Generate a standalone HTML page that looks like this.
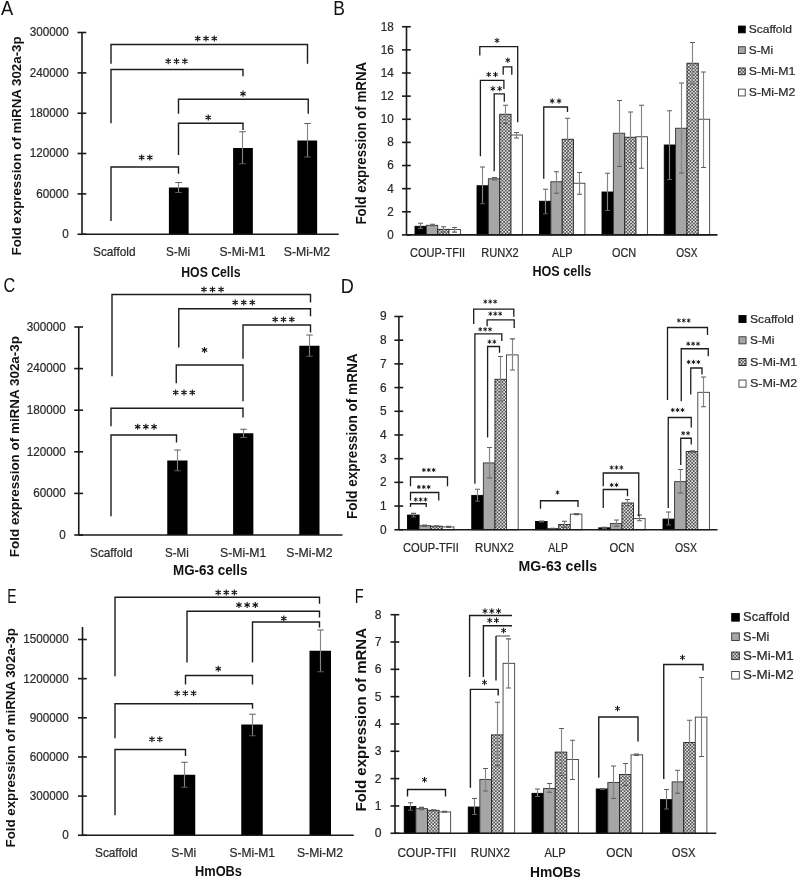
<!DOCTYPE html>
<html><head><meta charset="utf-8"><title>Figure</title>
<style>
html,body{margin:0;padding:0;background:#fff;}
body{width:800px;height:884px;overflow:hidden;}
svg{display:block;font-family:"Liberation Sans", sans-serif;will-change:transform;}
</style></head><body>
<svg width="800" height="884" viewBox="0 0 800 884">
<defs>
<pattern id="hatch" patternUnits="userSpaceOnUse" width="3.3" height="3.3">
<rect width="3.3" height="3.3" fill="#505050"/>
<circle cx="0.825" cy="0.825" r="0.9" fill="#f6f6f6"/>
<circle cx="2.475" cy="2.475" r="0.9" fill="#f6f6f6"/>
</pattern>
</defs>
<rect width="800" height="884" fill="#fff"/>
<text transform="translate(0.96,14.9) scale(0.92,1)" font-size="19.9" fill="#111">A</text>
<text transform="translate(333.32,14.75) scale(0.88,1)" font-size="19.9" fill="#111">B</text>
<text transform="translate(3.42,291.6) scale(0.8,1)" font-size="20.3" fill="#111">C</text>
<text transform="translate(340.76,292.75) scale(0.91,1)" font-size="19.9" fill="#111">D</text>
<text transform="translate(7.36,602.75) scale(0.7,1)" font-size="19.9" fill="#111">E</text>
<text transform="translate(354.71,603) scale(0.73,1)" font-size="19.9" fill="#111">F</text>
<rect x="168.9" y="187.5" width="19.75" height="46.75" fill="#000"/>
<path d="M178.5 182.5V192.5" stroke="#858585" stroke-width="1.15" fill="none"/>
<path d="M175.25 182.5H181.75M175.25 192.5H181.75" stroke="#5e5e5e" stroke-width="1.15" fill="none"/>
<rect x="233.1" y="148" width="19.75" height="86.25" fill="#000"/>
<path d="M242.5 131.75V163.75" stroke="#858585" stroke-width="1.15" fill="none"/>
<path d="M239.25 131.75H245.75M239.25 163.75H245.75" stroke="#5e5e5e" stroke-width="1.15" fill="none"/>
<rect x="297.4" y="140.5" width="19.75" height="93.75" fill="#000"/>
<path d="M307.5 123.5V157" stroke="#858585" stroke-width="1.15" fill="none"/>
<path d="M304.25 123.5H310.75M304.25 157H310.75" stroke="#5e5e5e" stroke-width="1.15" fill="none"/>
<line x1="82" y1="32.5" x2="82" y2="234.25" stroke="#1a1a1a" stroke-width="1.6"/>
<line x1="77.5" y1="32.5" x2="86.3" y2="32.5" stroke="#1a1a1a" stroke-width="1.6"/>
<text x="68.75" y="36.36" font-size="12.17" stroke="#2a2a2a" stroke-width="0.22" text-anchor="end" textLength="39.04" lengthAdjust="spacingAndGlyphs" fill="#2a2a2a">300000</text>
<line x1="77.5" y1="72.9" x2="86.3" y2="72.9" stroke="#1a1a1a" stroke-width="1.6"/>
<text x="68.75" y="76.76" font-size="12.17" stroke="#2a2a2a" stroke-width="0.22" text-anchor="end" textLength="39.04" lengthAdjust="spacingAndGlyphs" fill="#2a2a2a">240000</text>
<line x1="77.5" y1="113.25" x2="86.3" y2="113.25" stroke="#1a1a1a" stroke-width="1.6"/>
<text x="68.75" y="117.11" font-size="12.17" stroke="#2a2a2a" stroke-width="0.22" text-anchor="end" textLength="39.04" lengthAdjust="spacingAndGlyphs" fill="#2a2a2a">180000</text>
<line x1="77.5" y1="153.5" x2="86.3" y2="153.5" stroke="#1a1a1a" stroke-width="1.6"/>
<text x="68.75" y="157.36" font-size="12.17" stroke="#2a2a2a" stroke-width="0.22" text-anchor="end" textLength="39.04" lengthAdjust="spacingAndGlyphs" fill="#2a2a2a">120000</text>
<line x1="77.5" y1="193.9" x2="86.3" y2="193.9" stroke="#1a1a1a" stroke-width="1.6"/>
<text x="68.75" y="197.76" font-size="12.17" stroke="#2a2a2a" stroke-width="0.22" text-anchor="end" textLength="32.53" lengthAdjust="spacingAndGlyphs" fill="#2a2a2a">60000</text>
<line x1="77.5" y1="234.25" x2="86.3" y2="234.25" stroke="#1a1a1a" stroke-width="1.6"/>
<text x="68.75" y="238.11" font-size="12.17" stroke="#2a2a2a" stroke-width="0.22" text-anchor="end" textLength="6.51" lengthAdjust="spacingAndGlyphs" fill="#2a2a2a">0</text>
<line x1="82" y1="234.25" x2="338.75" y2="234.25" stroke="#1a1a1a" stroke-width="1.6"/>
<text x="114.25" y="255.5" font-size="11.9" stroke="#2a2a2a" stroke-width="0.22" text-anchor="middle" textLength="42.5" lengthAdjust="spacingAndGlyphs" fill="#2a2a2a">Scaffold</text>
<text x="178" y="255.5" font-size="11.9" stroke="#2a2a2a" stroke-width="0.22" text-anchor="middle" textLength="24" lengthAdjust="spacingAndGlyphs" fill="#2a2a2a">S-Mi</text>
<text x="242.5" y="255.5" font-size="11.9" stroke="#2a2a2a" stroke-width="0.22" text-anchor="middle" textLength="46" lengthAdjust="spacingAndGlyphs" fill="#2a2a2a">S-Mi-M1</text>
<text x="306.9" y="255.5" font-size="11.9" stroke="#2a2a2a" stroke-width="0.22" text-anchor="middle" textLength="46.25" lengthAdjust="spacingAndGlyphs" fill="#2a2a2a">S-Mi-M2</text>
<text x="181.25" y="277" font-size="13.8" font-weight="bold" textLength="59.25" lengthAdjust="spacingAndGlyphs" fill="#111">HOS Cells</text>
<text transform="translate(21.2,255.4) rotate(-90)" font-size="13.3" font-weight="bold" textLength="219" lengthAdjust="spacingAndGlyphs" fill="#111">Fold expression of miRNA 302a-3p</text>
<path d="M111 63.75V44.5H307.5V63.75" fill="none" stroke="#1c1c1c" stroke-width="1.4"/>
<path d="M197.68 35.4L197.68 41.6M195 36.95L200.37 40.05M195 40.05L200.37 36.95" stroke="#111" stroke-width="1.1" fill="none"/>
<path d="M206 35.4L206 41.6M203.32 36.95L208.68 40.05M203.32 40.05L208.68 36.95" stroke="#111" stroke-width="1.1" fill="none"/>
<path d="M214.32 35.4L214.32 41.6M211.63 36.95L217 40.05M211.63 40.05L217 36.95" stroke="#111" stroke-width="1.1" fill="none"/>
<path d="M111 123.25V69.5H243V76.25" fill="none" stroke="#1c1c1c" stroke-width="1.4"/>
<path d="M168.18 58.1L168.18 64.3M165.5 59.65L170.87 62.75M165.5 62.75L170.87 59.65" stroke="#111" stroke-width="1.1" fill="none"/>
<path d="M176.5 58.1L176.5 64.3M173.82 59.65L179.18 62.75M173.82 62.75L179.18 59.65" stroke="#111" stroke-width="1.1" fill="none"/>
<path d="M184.82 58.1L184.82 64.3M182.13 59.65L187.5 62.75M182.13 62.75L187.5 59.65" stroke="#111" stroke-width="1.1" fill="none"/>
<path d="M178.5 113.75V99.25H308.25V113.75" fill="none" stroke="#1c1c1c" stroke-width="1.4"/>
<path d="M243 90.6L243 96.8M240.32 92.15L245.68 95.25M240.32 95.25L245.68 92.15" stroke="#111" stroke-width="1.1" fill="none"/>
<path d="M178.5 155V123.25H243V130" fill="none" stroke="#1c1c1c" stroke-width="1.4"/>
<path d="M208.25 114.4L208.25 120.6M205.57 115.95L210.93 119.05M205.57 119.05L210.93 115.95" stroke="#111" stroke-width="1.1" fill="none"/>
<path d="M111 221V167H178.5V173.75" fill="none" stroke="#1c1c1c" stroke-width="1.4"/>
<path d="M141.68 154.4L141.68 160.6M139 155.95L144.37 159.05M139 159.05L144.37 155.95" stroke="#111" stroke-width="1.1" fill="none"/>
<path d="M149.82 154.4L149.82 160.6M147.13 155.95L152.5 159.05M147.13 159.05L152.5 155.95" stroke="#111" stroke-width="1.1" fill="none"/>
<rect x="167.25" y="460.5" width="20.25" height="74.5" fill="#000"/>
<path d="M177.5 450V470.75" stroke="#858585" stroke-width="1.15" fill="none"/>
<path d="M174.25 450H180.75M174.25 470.75H180.75" stroke="#5e5e5e" stroke-width="1.15" fill="none"/>
<rect x="233.1" y="433.25" width="20.25" height="101.75" fill="#000"/>
<path d="M243.5 429.25V437.5" stroke="#858585" stroke-width="1.15" fill="none"/>
<path d="M240.25 429.25H246.75M240.25 437.5H246.75" stroke="#5e5e5e" stroke-width="1.15" fill="none"/>
<rect x="299.25" y="345.75" width="20.25" height="189.25" fill="#000"/>
<path d="M309.5 335V356.25" stroke="#858585" stroke-width="1.15" fill="none"/>
<path d="M306.25 335H312.75M306.25 356.25H312.75" stroke="#5e5e5e" stroke-width="1.15" fill="none"/>
<line x1="78.75" y1="327" x2="78.75" y2="535" stroke="#1a1a1a" stroke-width="1.6"/>
<line x1="74.25" y1="327" x2="83.05" y2="327" stroke="#1a1a1a" stroke-width="1.6"/>
<text x="65.75" y="330.86" font-size="12.17" stroke="#2a2a2a" stroke-width="0.22" text-anchor="end" textLength="39.04" lengthAdjust="spacingAndGlyphs" fill="#2a2a2a">300000</text>
<line x1="74.25" y1="368.6" x2="83.05" y2="368.6" stroke="#1a1a1a" stroke-width="1.6"/>
<text x="65.75" y="372.46" font-size="12.17" stroke="#2a2a2a" stroke-width="0.22" text-anchor="end" textLength="39.04" lengthAdjust="spacingAndGlyphs" fill="#2a2a2a">240000</text>
<line x1="74.25" y1="410.2" x2="83.05" y2="410.2" stroke="#1a1a1a" stroke-width="1.6"/>
<text x="65.75" y="414.06" font-size="12.17" stroke="#2a2a2a" stroke-width="0.22" text-anchor="end" textLength="39.04" lengthAdjust="spacingAndGlyphs" fill="#2a2a2a">180000</text>
<line x1="74.25" y1="451.8" x2="83.05" y2="451.8" stroke="#1a1a1a" stroke-width="1.6"/>
<text x="65.75" y="455.66" font-size="12.17" stroke="#2a2a2a" stroke-width="0.22" text-anchor="end" textLength="39.04" lengthAdjust="spacingAndGlyphs" fill="#2a2a2a">120000</text>
<line x1="74.25" y1="493.4" x2="83.05" y2="493.4" stroke="#1a1a1a" stroke-width="1.6"/>
<text x="65.75" y="497.26" font-size="12.17" stroke="#2a2a2a" stroke-width="0.22" text-anchor="end" textLength="32.53" lengthAdjust="spacingAndGlyphs" fill="#2a2a2a">60000</text>
<line x1="74.25" y1="535" x2="83.05" y2="535" stroke="#1a1a1a" stroke-width="1.6"/>
<text x="65.75" y="538.86" font-size="12.17" stroke="#2a2a2a" stroke-width="0.22" text-anchor="end" textLength="6.51" lengthAdjust="spacingAndGlyphs" fill="#2a2a2a">0</text>
<line x1="78.75" y1="535" x2="342.5" y2="535" stroke="#1a1a1a" stroke-width="1.6"/>
<text x="111.25" y="556.5" font-size="11.9" stroke="#2a2a2a" stroke-width="0.22" text-anchor="middle" textLength="42.5" lengthAdjust="spacingAndGlyphs" fill="#2a2a2a">Scaffold</text>
<text x="176.9" y="556.5" font-size="11.9" stroke="#2a2a2a" stroke-width="0.22" text-anchor="middle" textLength="23.75" lengthAdjust="spacingAndGlyphs" fill="#2a2a2a">S-Mi</text>
<text x="243.1" y="556.5" font-size="11.9" stroke="#2a2a2a" stroke-width="0.22" text-anchor="middle" textLength="46.25" lengthAdjust="spacingAndGlyphs" fill="#2a2a2a">S-Mi-M1</text>
<text x="309.4" y="556.5" font-size="11.9" stroke="#2a2a2a" stroke-width="0.22" text-anchor="middle" textLength="46.25" lengthAdjust="spacingAndGlyphs" fill="#2a2a2a">S-Mi-M2</text>
<text x="173" y="575" font-size="13.8" font-weight="bold" textLength="74.5" lengthAdjust="spacingAndGlyphs" fill="#111">MG-63 cells</text>
<text transform="translate(18.9,557.2) rotate(-90)" font-size="13.3" font-weight="bold" textLength="221.2" lengthAdjust="spacingAndGlyphs" fill="#111">Fold expression of miRNA 302a-3p</text>
<path d="M112 376.25V294.5H310.5V302.5" fill="none" stroke="#1c1c1c" stroke-width="1.4"/>
<path d="M203.93 286.4L203.93 292.6M201.25 287.95L206.62 291.05M201.25 291.05L206.62 287.95" stroke="#111" stroke-width="1.1" fill="none"/>
<path d="M212.5 286.4L212.5 292.6M209.82 287.95L215.18 291.05M209.82 291.05L215.18 287.95" stroke="#111" stroke-width="1.1" fill="none"/>
<path d="M221.07 286.4L221.07 292.6M218.38 287.95L223.75 291.05M218.38 291.05L223.75 287.95" stroke="#111" stroke-width="1.1" fill="none"/>
<path d="M178.75 347.5V308.75H310.5V316.25" fill="none" stroke="#1c1c1c" stroke-width="1.4"/>
<path d="M235.18 299.4L235.18 305.6M232.5 300.95L237.87 304.05M232.5 304.05L237.87 300.95" stroke="#111" stroke-width="1.1" fill="none"/>
<path d="M243.75 299.4L243.75 305.6M241.07 300.95L246.43 304.05M241.07 304.05L246.43 300.95" stroke="#111" stroke-width="1.1" fill="none"/>
<path d="M252.32 299.4L252.32 305.6M249.63 300.95L255 304.05M249.63 304.05L255 300.95" stroke="#111" stroke-width="1.1" fill="none"/>
<path d="M243 358.75V325H310.5V332.5" fill="none" stroke="#1c1c1c" stroke-width="1.4"/>
<path d="M275.18 316.4L275.18 322.6M272.5 317.95L277.87 321.05M272.5 321.05L277.87 317.95" stroke="#111" stroke-width="1.1" fill="none"/>
<path d="M283.5 316.4L283.5 322.6M280.82 317.95L286.18 321.05M280.82 321.05L286.18 317.95" stroke="#111" stroke-width="1.1" fill="none"/>
<path d="M291.82 316.4L291.82 322.6M289.13 317.95L294.5 321.05M289.13 321.05L294.5 317.95" stroke="#111" stroke-width="1.1" fill="none"/>
<path d="M176.25 383.25V365H243V401.25" fill="none" stroke="#1c1c1c" stroke-width="1.4"/>
<path d="M204.5 346.9L204.5 353.1M201.82 348.45L207.18 351.55M201.82 351.55L207.18 348.45" stroke="#111" stroke-width="1.1" fill="none"/>
<path d="M111 426.25V408.25H243V417.5" fill="none" stroke="#1c1c1c" stroke-width="1.4"/>
<path d="M175.68 389.4L175.68 395.6M173 390.95L178.37 394.05M173 394.05L178.37 390.95" stroke="#111" stroke-width="1.1" fill="none"/>
<path d="M184 389.4L184 395.6M181.32 390.95L186.68 394.05M181.32 394.05L186.68 390.95" stroke="#111" stroke-width="1.1" fill="none"/>
<path d="M192.32 389.4L192.32 395.6M189.63 390.95L195 394.05M189.63 394.05L195 390.95" stroke="#111" stroke-width="1.1" fill="none"/>
<path d="M111 516.25V435H176.5V442.5" fill="none" stroke="#1c1c1c" stroke-width="1.4"/>
<path d="M137.68 423.65L137.68 429.85M135 425.2L140.37 428.3M135 428.3L140.37 425.2" stroke="#111" stroke-width="1.1" fill="none"/>
<path d="M145.88 423.65L145.88 429.85M143.19 425.2L148.56 428.3M143.19 428.3L148.56 425.2" stroke="#111" stroke-width="1.1" fill="none"/>
<path d="M154.07 423.65L154.07 429.85M151.38 425.2L156.75 428.3M151.38 428.3L156.75 425.2" stroke="#111" stroke-width="1.1" fill="none"/>
<rect x="173.75" y="774.75" width="21.5" height="60.5" fill="#000"/>
<path d="M184.5 762.25V787.25" stroke="#858585" stroke-width="1.15" fill="none"/>
<path d="M181.25 762.25H187.75M181.25 787.25H187.75" stroke="#5e5e5e" stroke-width="1.15" fill="none"/>
<rect x="241.25" y="724.5" width="21.5" height="110.75" fill="#000"/>
<path d="M252.5 714.25V735.75" stroke="#858585" stroke-width="1.15" fill="none"/>
<path d="M249.25 714.25H255.75M249.25 735.75H255.75" stroke="#5e5e5e" stroke-width="1.15" fill="none"/>
<rect x="309.5" y="650.75" width="21.5" height="184.5" fill="#000"/>
<path d="M320.5 630V671.75" stroke="#858585" stroke-width="1.15" fill="none"/>
<path d="M317.25 630H323.75M317.25 671.75H323.75" stroke="#5e5e5e" stroke-width="1.15" fill="none"/>
<line x1="82.5" y1="639.5" x2="82.5" y2="835.25" stroke="#1a1a1a" stroke-width="1.6"/>
<line x1="78" y1="639.5" x2="86.8" y2="639.5" stroke="#1a1a1a" stroke-width="1.6"/>
<text x="68.75" y="643.36" font-size="12.17" stroke="#2a2a2a" stroke-width="0.22" text-anchor="end" textLength="45.54" lengthAdjust="spacingAndGlyphs" fill="#2a2a2a">1500000</text>
<line x1="78" y1="678.65" x2="86.8" y2="678.65" stroke="#1a1a1a" stroke-width="1.6"/>
<text x="68.75" y="682.51" font-size="12.17" stroke="#2a2a2a" stroke-width="0.22" text-anchor="end" textLength="45.54" lengthAdjust="spacingAndGlyphs" fill="#2a2a2a">1200000</text>
<line x1="78" y1="717.8" x2="86.8" y2="717.8" stroke="#1a1a1a" stroke-width="1.6"/>
<text x="68.75" y="721.66" font-size="12.17" stroke="#2a2a2a" stroke-width="0.22" text-anchor="end" textLength="39.04" lengthAdjust="spacingAndGlyphs" fill="#2a2a2a">900000</text>
<line x1="78" y1="756.95" x2="86.8" y2="756.95" stroke="#1a1a1a" stroke-width="1.6"/>
<text x="68.75" y="760.81" font-size="12.17" stroke="#2a2a2a" stroke-width="0.22" text-anchor="end" textLength="39.04" lengthAdjust="spacingAndGlyphs" fill="#2a2a2a">600000</text>
<line x1="78" y1="796.1" x2="86.8" y2="796.1" stroke="#1a1a1a" stroke-width="1.6"/>
<text x="68.75" y="799.96" font-size="12.17" stroke="#2a2a2a" stroke-width="0.22" text-anchor="end" textLength="39.04" lengthAdjust="spacingAndGlyphs" fill="#2a2a2a">300000</text>
<line x1="78" y1="835.25" x2="86.8" y2="835.25" stroke="#1a1a1a" stroke-width="1.6"/>
<text x="68.75" y="839.11" font-size="12.17" stroke="#2a2a2a" stroke-width="0.22" text-anchor="end" textLength="6.51" lengthAdjust="spacingAndGlyphs" fill="#2a2a2a">0</text>
<line x1="82.5" y1="835.25" x2="353.75" y2="835.25" stroke="#1a1a1a" stroke-width="1.6"/>
<text x="116.25" y="856.75" font-size="11.9" stroke="#2a2a2a" stroke-width="0.22" text-anchor="middle" textLength="42.5" lengthAdjust="spacingAndGlyphs" fill="#2a2a2a">Scaffold</text>
<text x="183.75" y="856.75" font-size="11.9" stroke="#2a2a2a" stroke-width="0.22" text-anchor="middle" textLength="25" lengthAdjust="spacingAndGlyphs" fill="#2a2a2a">S-Mi</text>
<text x="252.25" y="856.75" font-size="11.9" stroke="#2a2a2a" stroke-width="0.22" text-anchor="middle" textLength="45.5" lengthAdjust="spacingAndGlyphs" fill="#2a2a2a">S-Mi-M1</text>
<text x="320" y="856.75" font-size="11.9" stroke="#2a2a2a" stroke-width="0.22" text-anchor="middle" textLength="46" lengthAdjust="spacingAndGlyphs" fill="#2a2a2a">S-Mi-M2</text>
<text x="195" y="876" font-size="13.8" font-weight="bold" textLength="47" lengthAdjust="spacingAndGlyphs" fill="#111">HmOBs</text>
<text transform="translate(14.9,847.5) rotate(-90)" font-size="13.3" font-weight="bold" textLength="219.3" lengthAdjust="spacingAndGlyphs" fill="#111">Fold expression of miRNA 302a-3p</text>
<line x1="82.5" y1="627" x2="82.5" y2="639.5" stroke="#1a1a1a" stroke-width="1.6"/>
<path d="M115 676.25V597.25H319.5V603.75" fill="none" stroke="#1c1c1c" stroke-width="1.4"/>
<path d="M218.18 589.4L218.18 595.6M215.5 590.95L220.87 594.05M215.5 594.05L220.87 590.95" stroke="#111" stroke-width="1.1" fill="none"/>
<path d="M226.25 589.4L226.25 595.6M223.57 590.95L228.93 594.05M223.57 594.05L228.93 590.95" stroke="#111" stroke-width="1.1" fill="none"/>
<path d="M234.32 589.4L234.32 595.6M231.63 590.95L237 594.05M231.63 594.05L237 590.95" stroke="#111" stroke-width="1.1" fill="none"/>
<path d="M187 662.5V611.25H319.5V617.5" fill="none" stroke="#1c1c1c" stroke-width="1.4"/>
<path d="M238.93 601.9L238.93 608.1M236.25 603.45L241.62 606.55M236.25 606.55L241.62 603.45" stroke="#111" stroke-width="1.1" fill="none"/>
<path d="M247.12 601.9L247.12 608.1M244.44 603.45L249.81 606.55M244.44 606.55L249.81 603.45" stroke="#111" stroke-width="1.1" fill="none"/>
<path d="M255.32 601.9L255.32 608.1M252.63 603.45L258 606.55M252.63 606.55L258 603.45" stroke="#111" stroke-width="1.1" fill="none"/>
<path d="M252.5 662.5V622H319.5V627.5" fill="none" stroke="#1c1c1c" stroke-width="1.4"/>
<path d="M283.75 615.4L283.75 621.6M281.07 616.95L286.43 620.05M281.07 620.05L286.43 616.95" stroke="#111" stroke-width="1.1" fill="none"/>
<path d="M185.5 684.5V675.5H252.5V684.5" fill="none" stroke="#1c1c1c" stroke-width="1.4"/>
<path d="M218.25 665.65L218.25 671.85M215.57 667.2L220.93 670.3M215.57 670.3L220.93 667.2" stroke="#111" stroke-width="1.1" fill="none"/>
<path d="M115 738.25V703.75H252.5V708.75" fill="none" stroke="#1c1c1c" stroke-width="1.4"/>
<path d="M177.18 690.15L177.18 696.35M174.5 691.7L179.87 694.8M174.5 694.8L179.87 691.7" stroke="#111" stroke-width="1.1" fill="none"/>
<path d="M185.38 690.15L185.38 696.35M182.69 691.7L188.06 694.8M182.69 694.8L188.06 691.7" stroke="#111" stroke-width="1.1" fill="none"/>
<path d="M193.57 690.15L193.57 696.35M190.88 691.7L196.25 694.8M190.88 694.8L196.25 691.7" stroke="#111" stroke-width="1.1" fill="none"/>
<path d="M115 815.25V749.5H185.5V756" fill="none" stroke="#1c1c1c" stroke-width="1.4"/>
<path d="M151.93 736.15L151.93 742.35M149.25 737.7L154.62 740.8M149.25 740.8L154.62 737.7" stroke="#111" stroke-width="1.1" fill="none"/>
<path d="M159.82 736.15L159.82 742.35M157.13 737.7L162.5 740.8M157.13 740.8L162.5 737.7" stroke="#111" stroke-width="1.1" fill="none"/>
<rect x="415" y="226.3" width="11.35" height="8.6" fill="#000" stroke="#000" stroke-width="0.9"/>
<rect x="426.35" y="225.3" width="11.35" height="9.6" fill="#a6a6a6" stroke="#333" stroke-width="0.9"/>
<rect x="437.7" y="229.35" width="11.35" height="5.55" fill="url(#hatch)" stroke="#222" stroke-width="0.9"/>
<rect x="449.05" y="229.5" width="11.35" height="5.4" fill="#fff" stroke="#3c3c3c" stroke-width="0.9"/>
<rect x="477" y="185.75" width="11.35" height="49.15" fill="#000" stroke="#000" stroke-width="0.9"/>
<rect x="488.35" y="178.75" width="11.35" height="56.15" fill="#a6a6a6" stroke="#333" stroke-width="0.9"/>
<rect x="499.7" y="114.25" width="11.35" height="120.65" fill="url(#hatch)" stroke="#222" stroke-width="0.9"/>
<rect x="511.05" y="135" width="11.35" height="99.9" fill="#fff" stroke="#3c3c3c" stroke-width="0.9"/>
<rect x="539.5" y="201.25" width="11.35" height="33.65" fill="#000" stroke="#000" stroke-width="0.9"/>
<rect x="550.85" y="181.75" width="11.35" height="53.15" fill="#a6a6a6" stroke="#333" stroke-width="0.9"/>
<rect x="562.2" y="139.25" width="11.35" height="95.65" fill="url(#hatch)" stroke="#222" stroke-width="0.9"/>
<rect x="573.55" y="183.25" width="11.35" height="51.65" fill="#fff" stroke="#3c3c3c" stroke-width="0.9"/>
<rect x="602" y="192" width="11.35" height="42.9" fill="#000" stroke="#000" stroke-width="0.9"/>
<rect x="613.35" y="133.25" width="11.35" height="101.65" fill="#a6a6a6" stroke="#333" stroke-width="0.9"/>
<rect x="624.7" y="137.25" width="11.35" height="97.65" fill="url(#hatch)" stroke="#222" stroke-width="0.9"/>
<rect x="636.05" y="136.75" width="11.35" height="98.15" fill="#fff" stroke="#3c3c3c" stroke-width="0.9"/>
<rect x="664.25" y="145" width="11.35" height="89.9" fill="#000" stroke="#000" stroke-width="0.9"/>
<rect x="675.6" y="128.25" width="11.35" height="106.65" fill="#a6a6a6" stroke="#333" stroke-width="0.9"/>
<rect x="686.95" y="63.25" width="11.35" height="171.65" fill="url(#hatch)" stroke="#222" stroke-width="0.9"/>
<rect x="698.3" y="119.25" width="11.35" height="115.65" fill="#fff" stroke="#3c3c3c" stroke-width="0.9"/>
<path d="M420.5 228.3V223.25" stroke="#858585" stroke-width="1.15" fill="none"/>
<path d="M418 228.3H423M418 223.25H423" stroke="#5e5e5e" stroke-width="1.15" fill="none"/>
<path d="M432.5 225.6V224.2" stroke="#858585" stroke-width="1.15" fill="none"/>
<path d="M430 225.6H435M430 224.2H435" stroke="#5e5e5e" stroke-width="1.15" fill="none"/>
<path d="M443.5 232V226.7" stroke="#858585" stroke-width="1.15" fill="none"/>
<path d="M441 232H446M441 226.7H446" stroke="#5e5e5e" stroke-width="1.15" fill="none"/>
<path d="M454.5 232.1V227.5" stroke="#858585" stroke-width="1.15" fill="none"/>
<path d="M452 232.1H457M452 227.5H457" stroke="#5e5e5e" stroke-width="1.15" fill="none"/>
<path d="M482.5 203.75V167" stroke="#858585" stroke-width="1.15" fill="none"/>
<path d="M480 203.75H485M480 167H485" stroke="#5e5e5e" stroke-width="1.15" fill="none"/>
<path d="M494.5 180V177.5" stroke="#858585" stroke-width="1.15" fill="none"/>
<path d="M492 180H497M492 177.5H497" stroke="#5e5e5e" stroke-width="1.15" fill="none"/>
<path d="M505.5 123.3V105.2" stroke="#858585" stroke-width="1.15" fill="none"/>
<path d="M503 123.3H508M503 105.2H508" stroke="#5e5e5e" stroke-width="1.15" fill="none"/>
<path d="M516.5 138V132.5" stroke="#858585" stroke-width="1.15" fill="none"/>
<path d="M514 138H519M514 132.5H519" stroke="#5e5e5e" stroke-width="1.15" fill="none"/>
<path d="M545.5 213.75V189.25" stroke="#858585" stroke-width="1.15" fill="none"/>
<path d="M543 213.75H548M543 189.25H548" stroke="#5e5e5e" stroke-width="1.15" fill="none"/>
<path d="M556.5 193.25V171.75" stroke="#858585" stroke-width="1.15" fill="none"/>
<path d="M554 193.25H559M554 171.75H559" stroke="#5e5e5e" stroke-width="1.15" fill="none"/>
<path d="M567.5 160.25V118.25" stroke="#858585" stroke-width="1.15" fill="none"/>
<path d="M565 160.25H570M565 118.25H570" stroke="#5e5e5e" stroke-width="1.15" fill="none"/>
<path d="M579.5 194.25V172.5" stroke="#858585" stroke-width="1.15" fill="none"/>
<path d="M577 194.25H582M577 172.5H582" stroke="#5e5e5e" stroke-width="1.15" fill="none"/>
<path d="M607.5 210.5V173.25" stroke="#858585" stroke-width="1.15" fill="none"/>
<path d="M605 210.5H610M605 173.25H610" stroke="#5e5e5e" stroke-width="1.15" fill="none"/>
<path d="M619.5 166.5V100.5" stroke="#858585" stroke-width="1.15" fill="none"/>
<path d="M617 166.5H622M617 100.5H622" stroke="#5e5e5e" stroke-width="1.15" fill="none"/>
<path d="M630.5 162.5V112" stroke="#858585" stroke-width="1.15" fill="none"/>
<path d="M628 162.5H633M628 112H633" stroke="#5e5e5e" stroke-width="1.15" fill="none"/>
<path d="M641.5 168.25V105.25" stroke="#858585" stroke-width="1.15" fill="none"/>
<path d="M639 168.25H644M639 105.25H644" stroke="#5e5e5e" stroke-width="1.15" fill="none"/>
<path d="M669.5 179.5V110.75" stroke="#858585" stroke-width="1.15" fill="none"/>
<path d="M667 179.5H672M667 110.75H672" stroke="#5e5e5e" stroke-width="1.15" fill="none"/>
<path d="M681.5 173V83" stroke="#858585" stroke-width="1.15" fill="none"/>
<path d="M679 173H684M679 83H684" stroke="#5e5e5e" stroke-width="1.15" fill="none"/>
<path d="M692.5 84V42.5" stroke="#858585" stroke-width="1.15" fill="none"/>
<path d="M690 84H695M690 42.5H695" stroke="#5e5e5e" stroke-width="1.15" fill="none"/>
<path d="M703.5 167.5V72" stroke="#858585" stroke-width="1.15" fill="none"/>
<path d="M701 167.5H706M701 72H706" stroke="#5e5e5e" stroke-width="1.15" fill="none"/>
<line x1="406.5" y1="26.75" x2="406.5" y2="234.9" stroke="#1a1a1a" stroke-width="1.6"/>
<line x1="402" y1="26.75" x2="410.8" y2="26.75" stroke="#1a1a1a" stroke-width="1.6"/>
<text x="393.8" y="30.61" font-size="12.17" stroke="#2a2a2a" stroke-width="0.22" text-anchor="end" textLength="13.01" lengthAdjust="spacingAndGlyphs" fill="#2a2a2a">18</text>
<line x1="402" y1="49.88" x2="410.8" y2="49.88" stroke="#1a1a1a" stroke-width="1.6"/>
<text x="393.8" y="53.73" font-size="12.17" stroke="#2a2a2a" stroke-width="0.22" text-anchor="end" textLength="13.01" lengthAdjust="spacingAndGlyphs" fill="#2a2a2a">16</text>
<line x1="402" y1="73.01" x2="410.8" y2="73.01" stroke="#1a1a1a" stroke-width="1.6"/>
<text x="393.8" y="76.86" font-size="12.17" stroke="#2a2a2a" stroke-width="0.22" text-anchor="end" textLength="13.01" lengthAdjust="spacingAndGlyphs" fill="#2a2a2a">14</text>
<line x1="402" y1="96.13" x2="410.8" y2="96.13" stroke="#1a1a1a" stroke-width="1.6"/>
<text x="393.8" y="99.99" font-size="12.17" stroke="#2a2a2a" stroke-width="0.22" text-anchor="end" textLength="13.01" lengthAdjust="spacingAndGlyphs" fill="#2a2a2a">12</text>
<line x1="402" y1="119.26" x2="410.8" y2="119.26" stroke="#1a1a1a" stroke-width="1.6"/>
<text x="393.8" y="123.12" font-size="12.17" stroke="#2a2a2a" stroke-width="0.22" text-anchor="end" textLength="13.01" lengthAdjust="spacingAndGlyphs" fill="#2a2a2a">10</text>
<line x1="402" y1="142.39" x2="410.8" y2="142.39" stroke="#1a1a1a" stroke-width="1.6"/>
<text x="393.8" y="146.25" font-size="12.17" stroke="#2a2a2a" stroke-width="0.22" text-anchor="end" textLength="6.51" lengthAdjust="spacingAndGlyphs" fill="#2a2a2a">8</text>
<line x1="402" y1="165.52" x2="410.8" y2="165.52" stroke="#1a1a1a" stroke-width="1.6"/>
<text x="393.8" y="169.37" font-size="12.17" stroke="#2a2a2a" stroke-width="0.22" text-anchor="end" textLength="6.51" lengthAdjust="spacingAndGlyphs" fill="#2a2a2a">6</text>
<line x1="402" y1="188.64" x2="410.8" y2="188.64" stroke="#1a1a1a" stroke-width="1.6"/>
<text x="393.8" y="192.5" font-size="12.17" stroke="#2a2a2a" stroke-width="0.22" text-anchor="end" textLength="6.51" lengthAdjust="spacingAndGlyphs" fill="#2a2a2a">4</text>
<line x1="402" y1="211.77" x2="410.8" y2="211.77" stroke="#1a1a1a" stroke-width="1.6"/>
<text x="393.8" y="215.63" font-size="12.17" stroke="#2a2a2a" stroke-width="0.22" text-anchor="end" textLength="6.51" lengthAdjust="spacingAndGlyphs" fill="#2a2a2a">2</text>
<line x1="402" y1="234.9" x2="410.8" y2="234.9" stroke="#1a1a1a" stroke-width="1.6"/>
<text x="393.8" y="238.76" font-size="12.17" stroke="#2a2a2a" stroke-width="0.22" text-anchor="end" textLength="6.51" lengthAdjust="spacingAndGlyphs" fill="#2a2a2a">0</text>
<line x1="406.5" y1="234.9" x2="717.5" y2="234.9" stroke="#1a1a1a" stroke-width="1.6"/>
<text x="437.5" y="256.5" font-size="11.9" stroke="#2a2a2a" stroke-width="0.22" text-anchor="middle" textLength="55" lengthAdjust="spacingAndGlyphs" fill="#2a2a2a">COUP-TFII</text>
<text x="500" y="256.5" font-size="11.9" stroke="#2a2a2a" stroke-width="0.22" text-anchor="middle" textLength="37.5" lengthAdjust="spacingAndGlyphs" fill="#2a2a2a">RUNX2</text>
<text x="562.25" y="256.5" font-size="11.9" stroke="#2a2a2a" stroke-width="0.22" text-anchor="middle" textLength="20.5" lengthAdjust="spacingAndGlyphs" fill="#2a2a2a">ALP</text>
<text x="624.1" y="256.5" font-size="11.9" stroke="#2a2a2a" stroke-width="0.22" text-anchor="middle" textLength="24.25" lengthAdjust="spacingAndGlyphs" fill="#2a2a2a">OCN</text>
<text x="686.9" y="256.5" font-size="11.9" stroke="#2a2a2a" stroke-width="0.22" text-anchor="middle" textLength="21.25" lengthAdjust="spacingAndGlyphs" fill="#2a2a2a">OSX</text>
<text x="532.5" y="276.25" font-size="13.8" font-weight="bold" textLength="58.75" lengthAdjust="spacingAndGlyphs" fill="#111">HOS cells</text>
<text transform="translate(365.8,224.5) rotate(-90)" font-size="14" font-weight="bold" textLength="162.6" lengthAdjust="spacingAndGlyphs" fill="#111">Fold expression of mRNA</text>
<rect x="738.45" y="26.05" width="6.8" height="6.8" fill="#000" stroke="#000" stroke-width="0.9"/>
<text x="748.75" y="32.75" font-size="11.7" stroke="#2a2a2a" stroke-width="0.22" textLength="43.1" lengthAdjust="spacingAndGlyphs" fill="#2a2a2a">Scaffold</text>
<rect x="738.45" y="46.75" width="6.8" height="6.8" fill="#a6a6a6" stroke="#333" stroke-width="0.9"/>
<text x="748.75" y="53.75" font-size="11.7" stroke="#2a2a2a" stroke-width="0.22" textLength="24.4" lengthAdjust="spacingAndGlyphs" fill="#2a2a2a">S-Mi</text>
<rect x="738.45" y="67.95" width="6.8" height="6.8" fill="url(#hatch)" stroke="#222" stroke-width="0.9"/>
<text x="748.75" y="75" font-size="11.7" stroke="#2a2a2a" stroke-width="0.22" textLength="46.5" lengthAdjust="spacingAndGlyphs" fill="#2a2a2a">S-Mi-M1</text>
<rect x="738.45" y="89.15" width="6.8" height="6.8" fill="#fff" stroke="#3c3c3c" stroke-width="0.9"/>
<text x="748.75" y="96" font-size="11.7" stroke="#2a2a2a" stroke-width="0.22" textLength="46.5" lengthAdjust="spacingAndGlyphs" fill="#2a2a2a">S-Mi-M2</text>
<path d="M479.8 55.5V46.6H517.7V122.2" fill="none" stroke="#1c1c1c" stroke-width="1.3"/>
<path d="M497 37.9L497 43.1M494.75 39.2L499.25 41.8M494.75 41.8L499.25 39.2" stroke="#111" stroke-width="1" fill="none"/>
<path d="M503.2 74.7V66.8H511.8V74.7" fill="none" stroke="#1c1c1c" stroke-width="1.3"/>
<path d="M507.8 57.6L507.8 62.8M505.55 58.9L510.05 61.5M505.55 61.5L510.05 58.9" stroke="#111" stroke-width="1" fill="none"/>
<path d="M480.4 156.25V80.4H503.9V88.9" fill="none" stroke="#1c1c1c" stroke-width="1.3"/>
<path d="M488.7 71.9L488.7 77.1M486.45 73.2L490.95 75.8M486.45 75.8L490.95 73.2" stroke="#111" stroke-width="1" fill="none"/>
<path d="M495.5 71.9L495.5 77.1M493.25 73.2L497.75 75.8M493.25 75.8L497.75 73.2" stroke="#111" stroke-width="1" fill="none"/>
<path d="M494.2 171.25V93.9H504.3V101.8" fill="none" stroke="#1c1c1c" stroke-width="1.3"/>
<path d="M492.9 86.1L492.9 91.3M490.65 87.4L495.15 90M490.65 90L495.15 87.4" stroke="#111" stroke-width="1" fill="none"/>
<path d="M499.7 86.1L499.7 91.3M497.45 87.4L501.95 90M497.45 90L501.95 87.4" stroke="#111" stroke-width="1" fill="none"/>
<path d="M543.75 178.75V107H567.5V112" fill="none" stroke="#1c1c1c" stroke-width="1.3"/>
<path d="M552.2 98.4L552.2 103.6M549.95 99.7L554.45 102.3M549.95 102.3L554.45 99.7" stroke="#111" stroke-width="1" fill="none"/>
<path d="M559 98.4L559 103.6M556.75 99.7L561.25 102.3M556.75 102.3L561.25 99.7" stroke="#111" stroke-width="1" fill="none"/>
<rect x="407.5" y="515.06" width="11.6" height="14.69" fill="#000" stroke="#000" stroke-width="0.9"/>
<rect x="419.1" y="525.72" width="11.6" height="4.03" fill="#a6a6a6" stroke="#333" stroke-width="0.9"/>
<rect x="430.7" y="526.2" width="11.6" height="3.55" fill="url(#hatch)" stroke="#222" stroke-width="0.9"/>
<rect x="442.3" y="526.91" width="11.6" height="2.84" fill="#fff" stroke="#3c3c3c" stroke-width="0.9"/>
<rect x="471.75" y="495.39" width="11.6" height="34.36" fill="#000" stroke="#000" stroke-width="0.9"/>
<rect x="483.35" y="462.93" width="11.6" height="66.82" fill="#a6a6a6" stroke="#333" stroke-width="0.9"/>
<rect x="494.95" y="379.29" width="11.6" height="150.46" fill="url(#hatch)" stroke="#222" stroke-width="0.9"/>
<rect x="506.55" y="354.88" width="11.6" height="174.87" fill="#fff" stroke="#3c3c3c" stroke-width="0.9"/>
<rect x="535.5" y="521.46" width="11.6" height="8.29" fill="#000" stroke="#000" stroke-width="0.9"/>
<rect x="547.1" y="528.57" width="11.6" height="1.18" fill="#a6a6a6" stroke="#333" stroke-width="0.9"/>
<rect x="558.7" y="524.54" width="11.6" height="5.21" fill="url(#hatch)" stroke="#222" stroke-width="0.9"/>
<rect x="570.3" y="514.11" width="11.6" height="15.64" fill="#fff" stroke="#3c3c3c" stroke-width="0.9"/>
<rect x="598.75" y="527.85" width="11.6" height="1.9" fill="#000" stroke="#000" stroke-width="0.9"/>
<rect x="610.35" y="523.59" width="11.6" height="6.16" fill="#a6a6a6" stroke="#333" stroke-width="0.9"/>
<rect x="621.95" y="502.98" width="11.6" height="26.77" fill="url(#hatch)" stroke="#222" stroke-width="0.9"/>
<rect x="633.55" y="518.61" width="11.6" height="11.14" fill="#fff" stroke="#3c3c3c" stroke-width="0.9"/>
<rect x="663" y="519.09" width="11.6" height="10.66" fill="#000" stroke="#000" stroke-width="0.9"/>
<rect x="674.6" y="481.65" width="11.6" height="48.1" fill="#a6a6a6" stroke="#333" stroke-width="0.9"/>
<rect x="686.2" y="451.56" width="11.6" height="78.19" fill="url(#hatch)" stroke="#222" stroke-width="0.9"/>
<rect x="697.8" y="392.32" width="11.6" height="137.43" fill="#fff" stroke="#3c3c3c" stroke-width="0.9"/>
<path d="M413.5 516.96V513.4" stroke="#858585" stroke-width="1.15" fill="none"/>
<path d="M411 516.96H416M411 513.4H416" stroke="#5e5e5e" stroke-width="1.15" fill="none"/>
<path d="M424.5 526.43V525.01" stroke="#858585" stroke-width="1.15" fill="none"/>
<path d="M422 526.43H427M422 525.01H427" stroke="#5e5e5e" stroke-width="1.15" fill="none"/>
<path d="M436.5 526.67V525.72" stroke="#858585" stroke-width="1.15" fill="none"/>
<path d="M434 526.67H439M434 525.72H439" stroke="#5e5e5e" stroke-width="1.15" fill="none"/>
<path d="M448.5 527.38V526.43" stroke="#858585" stroke-width="1.15" fill="none"/>
<path d="M446 527.38H451M446 526.43H451" stroke="#5e5e5e" stroke-width="1.15" fill="none"/>
<path d="M477.5 501.25V489.25" stroke="#858585" stroke-width="1.15" fill="none"/>
<path d="M475 501.25H480M475 489.25H480" stroke="#5e5e5e" stroke-width="1.15" fill="none"/>
<path d="M489.5 478V447.5" stroke="#858585" stroke-width="1.15" fill="none"/>
<path d="M487 478H492M487 447.5H492" stroke="#5e5e5e" stroke-width="1.15" fill="none"/>
<path d="M500.5 401V356.5" stroke="#858585" stroke-width="1.15" fill="none"/>
<path d="M498 401H503M498 356.5H503" stroke="#5e5e5e" stroke-width="1.15" fill="none"/>
<path d="M512.5 370V338.8" stroke="#858585" stroke-width="1.15" fill="none"/>
<path d="M510 370H515M510 338.8H515" stroke="#5e5e5e" stroke-width="1.15" fill="none"/>
<path d="M541.5 521.93V520.98" stroke="#858585" stroke-width="1.15" fill="none"/>
<path d="M539 521.93H544M539 520.98H544" stroke="#5e5e5e" stroke-width="1.15" fill="none"/>
<path d="M552.5 528.8V528.33" stroke="#858585" stroke-width="1.15" fill="none"/>
<path d="M550 528.8H555M550 528.33H555" stroke="#5e5e5e" stroke-width="1.15" fill="none"/>
<path d="M564.5 527.38V521.25" stroke="#858585" stroke-width="1.15" fill="none"/>
<path d="M562 527.38H567M562 521.25H567" stroke="#5e5e5e" stroke-width="1.15" fill="none"/>
<path d="M576.5 514.59V513.64" stroke="#858585" stroke-width="1.15" fill="none"/>
<path d="M574 514.59H579M574 513.64H579" stroke="#5e5e5e" stroke-width="1.15" fill="none"/>
<path d="M604.5 528.33V527.38" stroke="#858585" stroke-width="1.15" fill="none"/>
<path d="M602 528.33H607M602 527.38H607" stroke="#5e5e5e" stroke-width="1.15" fill="none"/>
<path d="M616.5 526.25V520" stroke="#858585" stroke-width="1.15" fill="none"/>
<path d="M614 526.25H619M614 520H619" stroke="#5e5e5e" stroke-width="1.15" fill="none"/>
<path d="M627.5 505.5V499.5" stroke="#858585" stroke-width="1.15" fill="none"/>
<path d="M625 505.5H630M625 499.5H630" stroke="#5e5e5e" stroke-width="1.15" fill="none"/>
<path d="M639.5 520.75V515" stroke="#858585" stroke-width="1.15" fill="none"/>
<path d="M637 520.75H642M637 515H642" stroke="#5e5e5e" stroke-width="1.15" fill="none"/>
<path d="M668.5 525V512" stroke="#858585" stroke-width="1.15" fill="none"/>
<path d="M666 525H671M666 512H671" stroke="#5e5e5e" stroke-width="1.15" fill="none"/>
<path d="M680.5 493V469.5" stroke="#858585" stroke-width="1.15" fill="none"/>
<path d="M678 493H683M678 469.5H683" stroke="#5e5e5e" stroke-width="1.15" fill="none"/>
<path d="M692.5 452.27V450.85" stroke="#858585" stroke-width="1.15" fill="none"/>
<path d="M690 452.27H695M690 450.85H695" stroke="#5e5e5e" stroke-width="1.15" fill="none"/>
<path d="M703.5 406.75V377" stroke="#858585" stroke-width="1.15" fill="none"/>
<path d="M701 406.75H706M701 377H706" stroke="#5e5e5e" stroke-width="1.15" fill="none"/>
<line x1="398.9" y1="316.5" x2="398.9" y2="529.75" stroke="#1a1a1a" stroke-width="1.6"/>
<line x1="394.4" y1="316.5" x2="403.2" y2="316.5" stroke="#1a1a1a" stroke-width="1.6"/>
<text x="386.5" y="320.43" font-size="12.38" stroke="#2a2a2a" stroke-width="0.22" text-anchor="end" textLength="6.62" lengthAdjust="spacingAndGlyphs" fill="#2a2a2a">9</text>
<line x1="394.4" y1="340.19" x2="403.2" y2="340.19" stroke="#1a1a1a" stroke-width="1.6"/>
<text x="386.5" y="344.13" font-size="12.38" stroke="#2a2a2a" stroke-width="0.22" text-anchor="end" textLength="6.62" lengthAdjust="spacingAndGlyphs" fill="#2a2a2a">8</text>
<line x1="394.4" y1="363.89" x2="403.2" y2="363.89" stroke="#1a1a1a" stroke-width="1.6"/>
<text x="386.5" y="367.82" font-size="12.38" stroke="#2a2a2a" stroke-width="0.22" text-anchor="end" textLength="6.62" lengthAdjust="spacingAndGlyphs" fill="#2a2a2a">7</text>
<line x1="394.4" y1="387.58" x2="403.2" y2="387.58" stroke="#1a1a1a" stroke-width="1.6"/>
<text x="386.5" y="391.51" font-size="12.38" stroke="#2a2a2a" stroke-width="0.22" text-anchor="end" textLength="6.62" lengthAdjust="spacingAndGlyphs" fill="#2a2a2a">6</text>
<line x1="394.4" y1="411.28" x2="403.2" y2="411.28" stroke="#1a1a1a" stroke-width="1.6"/>
<text x="386.5" y="415.21" font-size="12.38" stroke="#2a2a2a" stroke-width="0.22" text-anchor="end" textLength="6.62" lengthAdjust="spacingAndGlyphs" fill="#2a2a2a">5</text>
<line x1="394.4" y1="434.97" x2="403.2" y2="434.97" stroke="#1a1a1a" stroke-width="1.6"/>
<text x="386.5" y="438.9" font-size="12.38" stroke="#2a2a2a" stroke-width="0.22" text-anchor="end" textLength="6.62" lengthAdjust="spacingAndGlyphs" fill="#2a2a2a">4</text>
<line x1="394.4" y1="458.67" x2="403.2" y2="458.67" stroke="#1a1a1a" stroke-width="1.6"/>
<text x="386.5" y="462.6" font-size="12.38" stroke="#2a2a2a" stroke-width="0.22" text-anchor="end" textLength="6.62" lengthAdjust="spacingAndGlyphs" fill="#2a2a2a">3</text>
<line x1="394.4" y1="482.36" x2="403.2" y2="482.36" stroke="#1a1a1a" stroke-width="1.6"/>
<text x="386.5" y="486.29" font-size="12.38" stroke="#2a2a2a" stroke-width="0.22" text-anchor="end" textLength="6.62" lengthAdjust="spacingAndGlyphs" fill="#2a2a2a">2</text>
<line x1="394.4" y1="506.06" x2="403.2" y2="506.06" stroke="#1a1a1a" stroke-width="1.6"/>
<text x="386.5" y="509.99" font-size="12.38" stroke="#2a2a2a" stroke-width="0.22" text-anchor="end" textLength="6.62" lengthAdjust="spacingAndGlyphs" fill="#2a2a2a">1</text>
<line x1="394.4" y1="529.75" x2="403.2" y2="529.75" stroke="#1a1a1a" stroke-width="1.6"/>
<text x="386.5" y="533.68" font-size="12.38" stroke="#2a2a2a" stroke-width="0.22" text-anchor="end" textLength="6.62" lengthAdjust="spacingAndGlyphs" fill="#2a2a2a">0</text>
<line x1="398.9" y1="529.75" x2="717.5" y2="529.75" stroke="#1a1a1a" stroke-width="1.6"/>
<text x="430.9" y="551.75" font-size="11.9" stroke="#2a2a2a" stroke-width="0.22" text-anchor="middle" textLength="55.75" lengthAdjust="spacingAndGlyphs" fill="#2a2a2a">COUP-TFII</text>
<text x="494.4" y="551.75" font-size="11.9" stroke="#2a2a2a" stroke-width="0.22" text-anchor="middle" textLength="38.75" lengthAdjust="spacingAndGlyphs" fill="#2a2a2a">RUNX2</text>
<text x="558.1" y="551.75" font-size="11.9" stroke="#2a2a2a" stroke-width="0.22" text-anchor="middle" textLength="19.75" lengthAdjust="spacingAndGlyphs" fill="#2a2a2a">ALP</text>
<text x="621.9" y="551.75" font-size="11.9" stroke="#2a2a2a" stroke-width="0.22" text-anchor="middle" textLength="24.75" lengthAdjust="spacingAndGlyphs" fill="#2a2a2a">OCN</text>
<text x="686" y="551.75" font-size="11.9" stroke="#2a2a2a" stroke-width="0.22" text-anchor="middle" textLength="22" lengthAdjust="spacingAndGlyphs" fill="#2a2a2a">OSX</text>
<text x="518.5" y="571.25" font-size="13.8" font-weight="bold" textLength="78.5" lengthAdjust="spacingAndGlyphs" fill="#111">MG-63 cells</text>
<text transform="translate(357.2,519.1) rotate(-90)" font-size="14" font-weight="bold" textLength="165.6" lengthAdjust="spacingAndGlyphs" fill="#111">Fold expression of mRNA</text>
<rect x="738.95" y="315.45" width="7.1" height="7.1" fill="#000" stroke="#000" stroke-width="0.9"/>
<text x="750" y="322.5" font-size="11.7" stroke="#2a2a2a" stroke-width="0.22" textLength="43.75" lengthAdjust="spacingAndGlyphs" fill="#2a2a2a">Scaffold</text>
<rect x="738.95" y="336.75" width="7.1" height="7.1" fill="#a6a6a6" stroke="#333" stroke-width="0.9"/>
<text x="750" y="344" font-size="11.7" stroke="#2a2a2a" stroke-width="0.22" textLength="24.4" lengthAdjust="spacingAndGlyphs" fill="#2a2a2a">S-Mi</text>
<rect x="738.95" y="358.45" width="7.1" height="7.1" fill="url(#hatch)" stroke="#222" stroke-width="0.9"/>
<text x="750" y="365.6" font-size="11.7" stroke="#2a2a2a" stroke-width="0.22" textLength="47.25" lengthAdjust="spacingAndGlyphs" fill="#2a2a2a">S-Mi-M1</text>
<rect x="738.95" y="380.05" width="7.1" height="7.1" fill="#fff" stroke="#3c3c3c" stroke-width="0.9"/>
<text x="750" y="386.9" font-size="11.7" stroke="#2a2a2a" stroke-width="0.22" textLength="47.25" lengthAdjust="spacingAndGlyphs" fill="#2a2a2a">S-Mi-M2</text>
<path d="M410.5 486.25V477H447.5V486.25" fill="none" stroke="#1c1c1c" stroke-width="1.3"/>
<path d="M423.85 467.9L423.85 472.1M422.03 468.95L425.67 471.05M422.03 471.05L425.67 468.95" stroke="#111" stroke-width="0.9" fill="none"/>
<path d="M428.75 467.9L428.75 472.1M426.93 468.95L430.57 471.05M426.93 471.05L430.57 468.95" stroke="#111" stroke-width="0.9" fill="none"/>
<path d="M433.65 467.9L433.65 472.1M431.83 468.95L435.47 471.05M431.83 471.05L435.47 468.95" stroke="#111" stroke-width="0.9" fill="none"/>
<path d="M410.5 500.5V492.5H438.75V500.5" fill="none" stroke="#1c1c1c" stroke-width="1.3"/>
<path d="M418.85 484.9L418.85 489.1M417.03 485.95L420.67 488.05M417.03 488.05L420.67 485.95" stroke="#111" stroke-width="0.9" fill="none"/>
<path d="M423.75 484.9L423.75 489.1M421.93 485.95L425.57 488.05M421.93 488.05L425.57 485.95" stroke="#111" stroke-width="0.9" fill="none"/>
<path d="M428.65 484.9L428.65 489.1M426.83 485.95L430.47 488.05M426.83 488.05L430.47 485.95" stroke="#111" stroke-width="0.9" fill="none"/>
<path d="M410.5 507V503.75H426.25V507" fill="none" stroke="#1c1c1c" stroke-width="1.3"/>
<path d="M415.7 497.4L415.7 501.6M413.88 498.45L417.52 500.55M413.88 500.55L417.52 498.45" stroke="#111" stroke-width="0.9" fill="none"/>
<path d="M420.6 497.4L420.6 501.6M418.78 498.45L422.42 500.55M418.78 500.55L422.42 498.45" stroke="#111" stroke-width="0.9" fill="none"/>
<path d="M425.5 497.4L425.5 501.6M423.68 498.45L427.32 500.55M423.68 500.55L427.32 498.45" stroke="#111" stroke-width="0.9" fill="none"/>
<path d="M473.7 323.9V309.2H513.8V316.7" fill="none" stroke="#1c1c1c" stroke-width="1.3"/>
<path d="M485.3 299.5L485.3 303.7M483.48 300.55L487.12 302.65M483.48 302.65L487.12 300.55" stroke="#111" stroke-width="0.9" fill="none"/>
<path d="M490.2 299.5L490.2 303.7M488.38 300.55L492.02 302.65M488.38 302.65L492.02 300.55" stroke="#111" stroke-width="0.9" fill="none"/>
<path d="M495.1 299.5L495.1 303.7M493.28 300.55L496.92 302.65M493.28 302.65L496.92 300.55" stroke="#111" stroke-width="0.9" fill="none"/>
<path d="M487.1 326.2V319.8H514.2V328" fill="none" stroke="#1c1c1c" stroke-width="1.3"/>
<path d="M490.35 311.6L490.35 315.8M488.53 312.65L492.17 314.75M488.53 314.75L492.17 312.65" stroke="#111" stroke-width="0.9" fill="none"/>
<path d="M495.25 311.6L495.25 315.8M493.43 312.65L497.07 314.75M493.43 314.75L497.07 312.65" stroke="#111" stroke-width="0.9" fill="none"/>
<path d="M500.15 311.6L500.15 315.8M498.33 312.65L501.97 314.75M498.33 314.75L501.97 312.65" stroke="#111" stroke-width="0.9" fill="none"/>
<path d="M474.9 483.75V333.9H501.8V341.1" fill="none" stroke="#1c1c1c" stroke-width="1.3"/>
<path d="M480.2 327.2L480.2 331.4M478.38 328.25L482.02 330.35M478.38 330.35L482.02 328.25" stroke="#111" stroke-width="0.9" fill="none"/>
<path d="M485.1 327.2L485.1 331.4M483.28 328.25L486.92 330.35M483.28 330.35L486.92 328.25" stroke="#111" stroke-width="0.9" fill="none"/>
<path d="M490 327.2L490 331.4M488.18 328.25L491.82 330.35M488.18 330.35L491.82 328.25" stroke="#111" stroke-width="0.9" fill="none"/>
<path d="M487.6 437.5V346.5H499.5V352.8" fill="none" stroke="#1c1c1c" stroke-width="1.3"/>
<path d="M489.45 339.6L489.45 343.8M487.63 340.65L491.27 342.75M487.63 342.75L491.27 340.65" stroke="#111" stroke-width="0.9" fill="none"/>
<path d="M494.35 339.6L494.35 343.8M492.53 340.65L496.17 342.75M492.53 342.75L496.17 340.65" stroke="#111" stroke-width="0.9" fill="none"/>
<path d="M540.5 508.75V500.75H578V507" fill="none" stroke="#1c1c1c" stroke-width="1.3"/>
<path d="M557.5 490.4L557.5 494.6M555.68 491.45L559.32 493.55M555.68 493.55L559.32 491.45" stroke="#111" stroke-width="0.9" fill="none"/>
<path d="M603.25 486.25V473H638.75V516.25" fill="none" stroke="#1c1c1c" stroke-width="1.3"/>
<path d="M611.6 465.4L611.6 469.6M609.78 466.45L613.42 468.55M609.78 468.55L613.42 466.45" stroke="#111" stroke-width="0.9" fill="none"/>
<path d="M616.5 465.4L616.5 469.6M614.68 466.45L618.32 468.55M614.68 468.55L618.32 466.45" stroke="#111" stroke-width="0.9" fill="none"/>
<path d="M621.4 465.4L621.4 469.6M619.58 466.45L623.22 468.55M619.58 468.55L623.22 466.45" stroke="#111" stroke-width="0.9" fill="none"/>
<path d="M603.25 508V489.5H627.5V496.25" fill="none" stroke="#1c1c1c" stroke-width="1.3"/>
<path d="M611.65 482.9L611.65 487.1M609.83 483.95L613.47 486.05M609.83 486.05L613.47 483.95" stroke="#111" stroke-width="0.9" fill="none"/>
<path d="M616.55 482.9L616.55 487.1M614.73 483.95L618.37 486.05M614.73 486.05L618.37 483.95" stroke="#111" stroke-width="0.9" fill="none"/>
<path d="M667.5 400V327.5H707.5V335" fill="none" stroke="#1c1c1c" stroke-width="1.3"/>
<path d="M678.85 318.4L678.85 322.6M677.03 319.45L680.67 321.55M677.03 321.55L680.67 319.45" stroke="#111" stroke-width="0.9" fill="none"/>
<path d="M683.75 318.4L683.75 322.6M681.93 319.45L685.57 321.55M681.93 321.55L685.57 319.45" stroke="#111" stroke-width="0.9" fill="none"/>
<path d="M688.65 318.4L688.65 322.6M686.83 319.45L690.47 321.55M686.83 321.55L690.47 319.45" stroke="#111" stroke-width="0.9" fill="none"/>
<path d="M681.25 401.25V348.75H708.25V356.25" fill="none" stroke="#1c1c1c" stroke-width="1.3"/>
<path d="M688.2 341.65L688.2 345.85M686.38 342.7L690.02 344.8M686.38 344.8L690.02 342.7" stroke="#111" stroke-width="0.9" fill="none"/>
<path d="M693.1 341.65L693.1 345.85M691.28 342.7L694.92 344.8M691.28 344.8L694.92 342.7" stroke="#111" stroke-width="0.9" fill="none"/>
<path d="M698 341.65L698 345.85M696.18 342.7L699.82 344.8M696.18 344.8L699.82 342.7" stroke="#111" stroke-width="0.9" fill="none"/>
<path d="M690.75 394.5V368H702V374.5" fill="none" stroke="#1c1c1c" stroke-width="1.3"/>
<path d="M688.6 359.9L688.6 364.1M686.78 360.95L690.42 363.05M686.78 363.05L690.42 360.95" stroke="#111" stroke-width="0.9" fill="none"/>
<path d="M693.5 359.9L693.5 364.1M691.68 360.95L695.32 363.05M691.68 363.05L695.32 360.95" stroke="#111" stroke-width="0.9" fill="none"/>
<path d="M698.4 359.9L698.4 364.1M696.58 360.95L700.22 363.05M696.58 363.05L700.22 360.95" stroke="#111" stroke-width="0.9" fill="none"/>
<path d="M668.25 508V417.5H691.25V427.5" fill="none" stroke="#1c1c1c" stroke-width="1.3"/>
<path d="M672.7 407.9L672.7 412.1M670.88 408.95L674.52 411.05M670.88 411.05L674.52 408.95" stroke="#111" stroke-width="0.9" fill="none"/>
<path d="M677.6 407.9L677.6 412.1M675.78 408.95L679.42 411.05M675.78 411.05L679.42 408.95" stroke="#111" stroke-width="0.9" fill="none"/>
<path d="M682.5 407.9L682.5 412.1M680.68 408.95L684.32 411.05M680.68 411.05L684.32 408.95" stroke="#111" stroke-width="0.9" fill="none"/>
<path d="M680.75 465V438.25H691.25V444.5" fill="none" stroke="#1c1c1c" stroke-width="1.3"/>
<path d="M683.15 431.15L683.15 435.35M681.33 432.2L684.97 434.3M681.33 434.3L684.97 432.2" stroke="#111" stroke-width="0.9" fill="none"/>
<path d="M688.05 431.15L688.05 435.35M686.23 432.2L689.87 434.3M686.23 434.3L689.87 432.2" stroke="#111" stroke-width="0.9" fill="none"/>
<rect x="404.25" y="806.48" width="11.6" height="26.77" fill="#000" stroke="#000" stroke-width="0.9"/>
<rect x="415.85" y="808.66" width="11.6" height="24.59" fill="#a6a6a6" stroke="#333" stroke-width="0.9"/>
<rect x="427.45" y="810.3" width="11.6" height="22.95" fill="url(#hatch)" stroke="#222" stroke-width="0.9"/>
<rect x="439.05" y="811.94" width="11.6" height="21.31" fill="#fff" stroke="#3c3c3c" stroke-width="0.9"/>
<rect x="468.25" y="807.02" width="11.6" height="26.23" fill="#000" stroke="#000" stroke-width="0.9"/>
<rect x="479.85" y="779.43" width="11.6" height="53.82" fill="#a6a6a6" stroke="#333" stroke-width="0.9"/>
<rect x="491.45" y="734.9" width="11.6" height="98.35" fill="url(#hatch)" stroke="#222" stroke-width="0.9"/>
<rect x="503.05" y="663.33" width="11.6" height="169.92" fill="#fff" stroke="#3c3c3c" stroke-width="0.9"/>
<rect x="532" y="793.36" width="11.6" height="39.89" fill="#000" stroke="#000" stroke-width="0.9"/>
<rect x="543.6" y="788.45" width="11.6" height="44.8" fill="#a6a6a6" stroke="#333" stroke-width="0.9"/>
<rect x="555.2" y="752.11" width="11.6" height="81.14" fill="url(#hatch)" stroke="#222" stroke-width="0.9"/>
<rect x="566.8" y="759.49" width="11.6" height="73.76" fill="#fff" stroke="#3c3c3c" stroke-width="0.9"/>
<rect x="596.25" y="788.99" width="11.6" height="44.26" fill="#000" stroke="#000" stroke-width="0.9"/>
<rect x="607.85" y="782.44" width="11.6" height="50.81" fill="#a6a6a6" stroke="#333" stroke-width="0.9"/>
<rect x="619.45" y="774.51" width="11.6" height="58.74" fill="url(#hatch)" stroke="#222" stroke-width="0.9"/>
<rect x="631.05" y="754.85" width="11.6" height="78.4" fill="#fff" stroke="#3c3c3c" stroke-width="0.9"/>
<rect x="660.5" y="799.65" width="11.6" height="33.6" fill="#000" stroke="#000" stroke-width="0.9"/>
<rect x="672.1" y="781.89" width="11.6" height="51.36" fill="#a6a6a6" stroke="#333" stroke-width="0.9"/>
<rect x="683.7" y="742.55" width="11.6" height="90.7" fill="url(#hatch)" stroke="#222" stroke-width="0.9"/>
<rect x="695.3" y="717.15" width="11.6" height="116.1" fill="#fff" stroke="#3c3c3c" stroke-width="0.9"/>
<path d="M410.5 810.25V802.75" stroke="#858585" stroke-width="1.15" fill="none"/>
<path d="M408 810.25H413M408 802.75H413" stroke="#5e5e5e" stroke-width="1.15" fill="none"/>
<path d="M421.5 809.76V807.3" stroke="#858585" stroke-width="1.15" fill="none"/>
<path d="M419 809.76H424M419 807.3H424" stroke="#5e5e5e" stroke-width="1.15" fill="none"/>
<path d="M433.5 810.85V809.76" stroke="#858585" stroke-width="1.15" fill="none"/>
<path d="M431 810.85H436M431 809.76H436" stroke="#5e5e5e" stroke-width="1.15" fill="none"/>
<path d="M444.5 812.21V811.39" stroke="#858585" stroke-width="1.15" fill="none"/>
<path d="M442 812.21H447M442 811.39H447" stroke="#5e5e5e" stroke-width="1.15" fill="none"/>
<path d="M474.5 814.5V798.5" stroke="#858585" stroke-width="1.15" fill="none"/>
<path d="M472 814.5H477M472 798.5H477" stroke="#5e5e5e" stroke-width="1.15" fill="none"/>
<path d="M485.5 791V768.5" stroke="#858585" stroke-width="1.15" fill="none"/>
<path d="M483 791H488M483 768.5H488" stroke="#5e5e5e" stroke-width="1.15" fill="none"/>
<path d="M497.5 765.75V702.25" stroke="#858585" stroke-width="1.15" fill="none"/>
<path d="M495 765.75H500M495 702.25H500" stroke="#5e5e5e" stroke-width="1.15" fill="none"/>
<path d="M508.5 688V638.8" stroke="#858585" stroke-width="1.15" fill="none"/>
<path d="M506 688H511M506 638.8H511" stroke="#5e5e5e" stroke-width="1.15" fill="none"/>
<path d="M537.5 796.5V789" stroke="#858585" stroke-width="1.15" fill="none"/>
<path d="M535 796.5H540M535 789H540" stroke="#5e5e5e" stroke-width="1.15" fill="none"/>
<path d="M549.5 792.25V783.5" stroke="#858585" stroke-width="1.15" fill="none"/>
<path d="M547 792.25H552M547 783.5H552" stroke="#5e5e5e" stroke-width="1.15" fill="none"/>
<path d="M561.5 775.5V728.5" stroke="#858585" stroke-width="1.15" fill="none"/>
<path d="M559 775.5H564M559 728.5H564" stroke="#5e5e5e" stroke-width="1.15" fill="none"/>
<path d="M572.5 779.5V740.25" stroke="#858585" stroke-width="1.15" fill="none"/>
<path d="M570 779.5H575M570 740.25H575" stroke="#5e5e5e" stroke-width="1.15" fill="none"/>
<path d="M602.5 789.54V788.45" stroke="#858585" stroke-width="1.15" fill="none"/>
<path d="M600 789.54H605M600 788.45H605" stroke="#5e5e5e" stroke-width="1.15" fill="none"/>
<path d="M613.5 798.5V766" stroke="#858585" stroke-width="1.15" fill="none"/>
<path d="M611 798.5H616M611 766H616" stroke="#5e5e5e" stroke-width="1.15" fill="none"/>
<path d="M625.5 785.5V763.5" stroke="#858585" stroke-width="1.15" fill="none"/>
<path d="M623 785.5H628M623 763.5H628" stroke="#5e5e5e" stroke-width="1.15" fill="none"/>
<path d="M636.5 755.39V754.03" stroke="#858585" stroke-width="1.15" fill="none"/>
<path d="M634 755.39H639M634 754.03H639" stroke="#5e5e5e" stroke-width="1.15" fill="none"/>
<path d="M666.5 809V789.5" stroke="#858585" stroke-width="1.15" fill="none"/>
<path d="M664 809H669M664 789.5H669" stroke="#5e5e5e" stroke-width="1.15" fill="none"/>
<path d="M677.5 793.25V770.25" stroke="#858585" stroke-width="1.15" fill="none"/>
<path d="M675 793.25H680M675 770.25H680" stroke="#5e5e5e" stroke-width="1.15" fill="none"/>
<path d="M689.5 764.25V720.25" stroke="#858585" stroke-width="1.15" fill="none"/>
<path d="M687 764.25H692M687 720.25H692" stroke="#5e5e5e" stroke-width="1.15" fill="none"/>
<path d="M701.5 756.5V677.5" stroke="#858585" stroke-width="1.15" fill="none"/>
<path d="M699 756.5H704M699 677.5H704" stroke="#5e5e5e" stroke-width="1.15" fill="none"/>
<line x1="395" y1="614.7" x2="395" y2="833.25" stroke="#1a1a1a" stroke-width="1.6"/>
<line x1="390.5" y1="614.7" x2="399.3" y2="614.7" stroke="#1a1a1a" stroke-width="1.6"/>
<text x="381.5" y="618.74" font-size="12.69" stroke="#2a2a2a" stroke-width="0.22" text-anchor="end" textLength="6.78" lengthAdjust="spacingAndGlyphs" fill="#2a2a2a">8</text>
<line x1="390.5" y1="642.02" x2="399.3" y2="642.02" stroke="#1a1a1a" stroke-width="1.6"/>
<text x="381.5" y="646.06" font-size="12.69" stroke="#2a2a2a" stroke-width="0.22" text-anchor="end" textLength="6.78" lengthAdjust="spacingAndGlyphs" fill="#2a2a2a">7</text>
<line x1="390.5" y1="669.34" x2="399.3" y2="669.34" stroke="#1a1a1a" stroke-width="1.6"/>
<text x="381.5" y="673.38" font-size="12.69" stroke="#2a2a2a" stroke-width="0.22" text-anchor="end" textLength="6.78" lengthAdjust="spacingAndGlyphs" fill="#2a2a2a">6</text>
<line x1="390.5" y1="696.66" x2="399.3" y2="696.66" stroke="#1a1a1a" stroke-width="1.6"/>
<text x="381.5" y="700.7" font-size="12.69" stroke="#2a2a2a" stroke-width="0.22" text-anchor="end" textLength="6.78" lengthAdjust="spacingAndGlyphs" fill="#2a2a2a">5</text>
<line x1="390.5" y1="723.98" x2="399.3" y2="723.98" stroke="#1a1a1a" stroke-width="1.6"/>
<text x="381.5" y="728.02" font-size="12.69" stroke="#2a2a2a" stroke-width="0.22" text-anchor="end" textLength="6.78" lengthAdjust="spacingAndGlyphs" fill="#2a2a2a">4</text>
<line x1="390.5" y1="751.29" x2="399.3" y2="751.29" stroke="#1a1a1a" stroke-width="1.6"/>
<text x="381.5" y="755.34" font-size="12.69" stroke="#2a2a2a" stroke-width="0.22" text-anchor="end" textLength="6.78" lengthAdjust="spacingAndGlyphs" fill="#2a2a2a">3</text>
<line x1="390.5" y1="778.61" x2="399.3" y2="778.61" stroke="#1a1a1a" stroke-width="1.6"/>
<text x="381.5" y="782.65" font-size="12.69" stroke="#2a2a2a" stroke-width="0.22" text-anchor="end" textLength="6.78" lengthAdjust="spacingAndGlyphs" fill="#2a2a2a">2</text>
<line x1="390.5" y1="805.93" x2="399.3" y2="805.93" stroke="#1a1a1a" stroke-width="1.6"/>
<text x="381.5" y="809.97" font-size="12.69" stroke="#2a2a2a" stroke-width="0.22" text-anchor="end" textLength="6.78" lengthAdjust="spacingAndGlyphs" fill="#2a2a2a">1</text>
<line x1="390.5" y1="833.25" x2="399.3" y2="833.25" stroke="#1a1a1a" stroke-width="1.6"/>
<text x="381.5" y="837.29" font-size="12.69" stroke="#2a2a2a" stroke-width="0.22" text-anchor="end" textLength="6.78" lengthAdjust="spacingAndGlyphs" fill="#2a2a2a">0</text>
<line x1="395" y1="833.25" x2="716.25" y2="833.25" stroke="#1a1a1a" stroke-width="1.6"/>
<text x="426.9" y="857" font-size="11.9" stroke="#2a2a2a" stroke-width="0.22" text-anchor="middle" textLength="58.75" lengthAdjust="spacingAndGlyphs" fill="#2a2a2a">COUP-TFII</text>
<text x="490.4" y="857" font-size="11.9" stroke="#2a2a2a" stroke-width="0.22" text-anchor="middle" textLength="39.25" lengthAdjust="spacingAndGlyphs" fill="#2a2a2a">RUNX2</text>
<text x="555.1" y="857" font-size="11.9" stroke="#2a2a2a" stroke-width="0.22" text-anchor="middle" textLength="21.25" lengthAdjust="spacingAndGlyphs" fill="#2a2a2a">ALP</text>
<text x="619.4" y="857" font-size="11.9" stroke="#2a2a2a" stroke-width="0.22" text-anchor="middle" textLength="26.25" lengthAdjust="spacingAndGlyphs" fill="#2a2a2a">OCN</text>
<text x="683.6" y="857" font-size="11.9" stroke="#2a2a2a" stroke-width="0.22" text-anchor="middle" textLength="23.75" lengthAdjust="spacingAndGlyphs" fill="#2a2a2a">OSX</text>
<text x="530" y="876.5" font-size="13.8" font-weight="bold" textLength="50.75" lengthAdjust="spacingAndGlyphs" fill="#111">HmOBs</text>
<text transform="translate(366.1,811.5) rotate(-90)" font-size="15.5" font-weight="bold" textLength="183.5" lengthAdjust="spacingAndGlyphs" fill="#111">Fold expression of mRNA</text>
<rect x="731.7" y="613.55" width="7.6" height="7.6" fill="#000" stroke="#000" stroke-width="0.9"/>
<text x="743.1" y="621" font-size="12.6" stroke="#2a2a2a" stroke-width="0.22" textLength="46.6" lengthAdjust="spacingAndGlyphs" fill="#2a2a2a">Scaffold</text>
<rect x="731.7" y="632.95" width="7.6" height="7.6" fill="#a6a6a6" stroke="#333" stroke-width="0.9"/>
<text x="743.1" y="640.6" font-size="12.6" stroke="#2a2a2a" stroke-width="0.22" textLength="26.3" lengthAdjust="spacingAndGlyphs" fill="#2a2a2a">S-Mi</text>
<rect x="731.7" y="652.05" width="7.6" height="7.6" fill="url(#hatch)" stroke="#222" stroke-width="0.9"/>
<text x="743.1" y="659.6" font-size="12.6" stroke="#2a2a2a" stroke-width="0.22" textLength="50.6" lengthAdjust="spacingAndGlyphs" fill="#2a2a2a">S-Mi-M1</text>
<rect x="731.7" y="671.45" width="7.6" height="7.6" fill="#fff" stroke="#3c3c3c" stroke-width="0.9"/>
<text x="743.1" y="678.8" font-size="12.6" stroke="#2a2a2a" stroke-width="0.22" textLength="50.6" lengthAdjust="spacingAndGlyphs" fill="#2a2a2a">S-Mi-M2</text>
<path d="M407.5 796.5V789.5H445.5V796.5" fill="none" stroke="#1c1c1c" stroke-width="1.4"/>
<path d="M424.5 776.95L424.5 782.55M422.08 778.35L426.92 781.15M422.08 781.15L426.92 778.35" stroke="#111" stroke-width="1" fill="none"/>
<path d="M469.6 676.9V615.5H512" fill="none" stroke="#1c1c1c" stroke-width="1.4"/>
<path d="M485 608.3L485 613.9M482.58 609.7L487.42 612.5M482.58 612.5L487.42 609.7" stroke="#111" stroke-width="1" fill="none"/>
<path d="M491.8 608.3L491.8 613.9M489.38 609.7L494.22 612.5M489.38 612.5L494.22 609.7" stroke="#111" stroke-width="1" fill="none"/>
<path d="M498.6 608.3L498.6 613.9M496.18 609.7L501.02 612.5M496.18 612.5L501.02 609.7" stroke="#111" stroke-width="1" fill="none"/>
<path d="M483.4 676.9V625.8H512" fill="none" stroke="#1c1c1c" stroke-width="1.4"/>
<path d="M489.7 617.6L489.7 623.2M487.28 619L492.12 621.8M487.28 621.8L492.12 619" stroke="#111" stroke-width="1" fill="none"/>
<path d="M496.5 617.6L496.5 623.2M494.08 619L498.92 621.8M494.08 621.8L498.92 619" stroke="#111" stroke-width="1" fill="none"/>
<path d="M496 636H509.8" fill="none" stroke="#777" stroke-width="1.4"/>
<path d="M496 680.5V636" fill="none" stroke="#1c1c1c" stroke-width="1.4"/>
<path d="M503.6 627.7L503.6 633.3M501.18 629.1L506.02 631.9M501.18 631.9L506.02 629.1" stroke="#111" stroke-width="1" fill="none"/>
<path d="M470.4 787.75V689.4H498.2V695.6" fill="none" stroke="#1c1c1c" stroke-width="1.4"/>
<path d="M484.5 679.6L484.5 685.2M482.08 681L486.92 683.8M482.08 683.8L486.92 681" stroke="#111" stroke-width="1" fill="none"/>
<path d="M598.75 777.75V717H638V741.5" fill="none" stroke="#1c1c1c" stroke-width="1.4"/>
<path d="M617.5 705.7L617.5 711.3M615.08 707.1L619.92 709.9M615.08 709.9L619.92 707.1" stroke="#111" stroke-width="1" fill="none"/>
<path d="M663.75 779V664.5H703V670.5" fill="none" stroke="#1c1c1c" stroke-width="1.4"/>
<path d="M682.5 654.7L682.5 660.3M680.08 656.1L684.92 658.9M680.08 658.9L684.92 656.1" stroke="#111" stroke-width="1" fill="none"/>
</svg>
</body></html>
